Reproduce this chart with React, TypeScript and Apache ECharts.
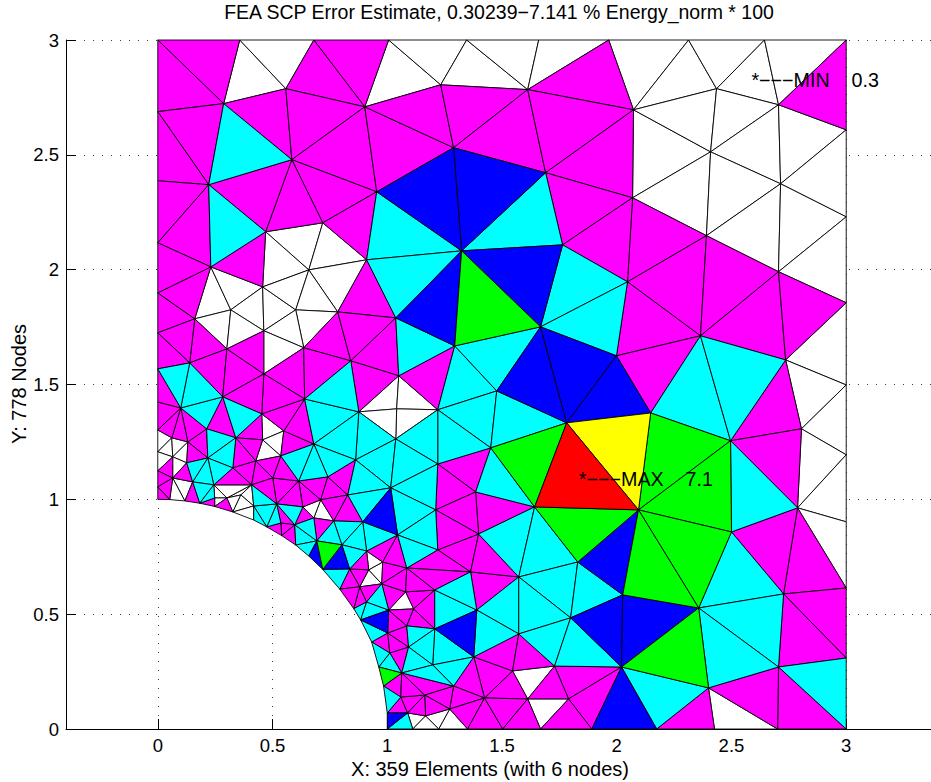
import React, { useEffect, useRef } from "react";
import * as echarts from "echarts";

const titleText = "FEA SCP Error Estimate, 0.30239\u22127.141 % Energy_norm * 100";
const xLabel = "X: 359 Elements (with 6 nodes)";
const yLabel = "Y: 778 Nodes";
const tickValues = [0, 0.5, 1, 1.5, 2, 2.5, 3];
const annotations: [number, number, string][] = [
  [2.587, 2.826, "*\u2212\u2212\u2212MIN    0.3"],
  [1.835, 1.087, "*\u2212\u2212\u2212MAX    7.1"],
];

const nodeX = [
  0, 0.357, 0.68, 1.006, 1.346, 1.66, 1.965, 2.313, 2.644, 3,
  0.287, 0.558, 0.902, 1.233, 1.612, 2.073, 2.435, 2.705, 0, 0,
  0, 0.584, 0.222, 0.954, 1.289, 1.69, 0.47, 0.719, 0.91, 1.324,
  0.231, 0.457, 0.658, 2.069, 2.409, 2.714, 3, 3, 2.705, 2.391,
  1.764, 2.047, 3, 1.668, 1.294, 1.037, 1.999, 2.365, 2.736, 2.148,
  2.496, 2.805, 3, 3, 2.788, 2.095, 1.782, 1.477, 1.05, 0.841,
  0.876, 1.041, 1.22, 1.037, 1.451, 1.22, 0.862, 1.015, 1.385, 0.418,
  0.784, 3, 2.5, 2.727, 3, 2.357, 2.026, 2.021, 3, 2.705,
  2.4, 2.174, 2.426, 2.701, 3, 1.891, 1.642, 1.83, 1.799, 1.573,
  1.729, 1.79, 1.546, 1.612, 1.424, 1.377, 1.573, 1.39, 1.363, 1.398,
  1.211, 1.22, 1.207, 1.207, 1.198, 1.289, 1.163, 1.272, 1.35, 1.503,
  1.668, 1.224, 1.167, 1.111, 1.089, 1, 1, 1.059, 0.984, 1.063,
  0.963, 1.011, 0.932, 1.093, 1.002, 1.085, 0.884, 1.006, 1.115, 0.91,
  0.854, 0.976, 0.88, 1.08, 0.919, 0.836, 0.793, 0.98, 0.91, 1.085,
  1.045, 0.893, 0.802, 0.767, 0.828, 0.71, 0.68, 0.632, 0.597, 0.693,
  0.601, 0.658, 0.719, 0.54, 0.536, 0.475, 0.518, 0.614, 0.501, 0.741,
  0.68, 0.536, 0.549, 0.457, 0.453, 0.64, 0.427, 0.409, 0.418, 0.362,
  0.327, 0.301, 0.244, 0.248, 0.248, 0.183, 0.152, 0.327, 0.218, 0.34,
  0.213, 0.283, 0.1, 0.131, 0.061, 0.126, 0.065, 0.065, 0.052, 0.118,
  0, 0, 0, 0, 0, 0, 0, 0.139, 0, 0.161,
  0, 0.318, 0.301, 0.462, 0.601, 0.636, 0.462,
];
const nodeY = [
  3, 3, 3, 3, 3, 3, 3, 3, 3, 3,
  2.723, 2.788, 2.709, 2.805, 2.784, 2.696, 2.788, 2.718, 2.688, 2.387,
  2.117, 2.479, 2.37, 2.339, 2.531, 2.422, 2.165, 2.204, 2.043, 2.082,
  2.012, 1.925, 1.999, 2.313, 2.513, 2.374, 2.609, 2.23, 1.991, 2.148,
  2.108, 1.947, 1.856, 1.751, 1.668, 1.79, 1.625, 1.712, 1.607, 1.376,
  1.255, 1.307, 1.498, 1.194, 0.963, 0.954, 1.333, 1.472, 1.538, 1.603,
  1.381, 1.394, 1.39, 1.263, 1.224, 1.154, 1.172, 1.05, 1.032, 0.91,
  1.816, 0.902, 0.858, 0.588, 0.614, 0.527, 0.584, 0.27, 0.309, 0.27,
  0.179, 0, 0, 0, 0, 0, 0.967, 0.727, 0.484, 0.662,
  0.274, 0.131, 0.253, 0.131, 0.135, 0.314, 0.414, 0.518, 0.684, 0.849,
  0.954, 0.78, 0.605, 0.436, 0.279, 0.187, 0.148, 0.087, 0, 0,
  0, 0, 0.057, 0, 0.07, 0, 0.07, 0.139, 0.187, 0.244,
  0.27, 0.331, 0.379, 0.357, 0.418, 0.449, 0.475, 0.518, 0.523, 0.553,
  0.524, 0.632, 0.619, 0.597, 0.693, 0.697, 0.609, 0.727, 0.775, 0.701,
  0.845, 0.902, 0.802, 0.906, 1.019, 0.998, 0.919, 0.967, 0.889, 0.819,
  0.801, 0.753, 0.695, 0.842, 0.897, 0.88, 0.98, 1.08, 1.093, 1.098,
  1.241, 1.189, 1.298, 1.259, 1.372, 1.437, 1.167, 1.063, 0.971, 1.019,
  0.945, 1.006, 1.063, 1.006, 0.969, 0.983, 1.076, 1.137, 1.18, 1.268,
  1.307, 1.446, 1.398, 1.25, 1.268, 1.159, 1.185, 1.093, 0.999, 0.993,
  1.424, 1.302, 1.207, 1.124, 1.054, 1, 1.568, 1.594, 1.725, 1.786,
  1.899, 1.825, 1.655, 1.734, 1.825, 1.66, 1.546,
];

const magentaCells = [
  0,1,10, 0,10,18, 2,3,12, 2,11,12, 6,15,14, 9,36,17, 18,10,22, 18,22,19, 10,11,21, 11,12,21,
  12,23,21, 12,24,23, 12,13,24, 13,14,24, 14,25,24, 14,15,25, 15,33,25, 33,39,41, 25,33,40, 33,41,40,
  21,23,27, 21,27,26, 21,26,22, 19,22,20, 20,22,30, 23,27,28, 30,26,31, 28,45,70, 39,47,41, 39,38,47,
  38,48,47, 38,42,48, 41,47,46, 46,47,49, 48,51,50, 54,74,73, 54,73,72, 50,51,54, 73,74,78, 73,78,79,
  79,84,83, 79,83,80, 80,82,81, 90,77,91, 91,77,85, 91,85,110, 90,91,93, 94,92,93, 95,92,94, 95,96,92,
  96,90,92, 98,97,89, 102,101,98, 101,99,98, 99,89,98, 68,86,99, 65,64,68, 65,68,100, 100,68,99, 100,99,101,
  95,94,105, 105,94,107, 94,108,107, 94,109,108, 94,93,109, 93,110,109, 104,105,106, 105,107,106, 106,107,112,
  117,114,116, 119,117,118, 117,106,114, 106,112,114, 119,106,117, 121,123,119, 122,124,121, 124,123,121, 124,125,123,
  127,125,124, 127,128,125, 128,103,125, 132,129,130, 132,131,129, 135,134,132, 136,135,132, 136,132,130, 131,133,127,
  133,102,128, 128,102,103, 135,138,134, 137,139,131, 131,139,133, 139,102,133, 139,101,98, 139,98,102, 119,105,106,
  138,140,137, 140,139,137, 146,143,149, 147,146,148, 157,158,156, 157,145,147, 157,147,156, 156,148,154, 154,148,153,
  154,153,155, 157,159,145, 159,144,145, 145,144,143, 144,141,143, 159,66,144, 153,148,150, 161,157,158, 162,160,161,
  165,160,162, 164,165,162, 180,181,179, 164,163,179, 179,163,166, 179,166,177, 166,161,158, 177,166,167, 166,158,167,
  158,156,167, 177,167,172, 183,180,178, 183,178,185, 182,180,183, 184,182,183, 191,182,184, 190,182,191, 193,186,187,
  185,176,187, 193,187,194, 194,187,188, 194,188,195, 176,175,189, 175,173,174, 171,170,174, 200,199,198, 200,30,199,
  20,30,200, 199,202,197, 198,199,197, 198,197,196, 197,202,181, 202,206,181, 202,203,206, 206,205,165, 205,70,59,
  205,59,165, 206,165,164, 181,206,164, 196,182,190, 70,45,59, 59,45,58, 59,58,60, 58,44,62,
];
const cyanCells = [
  10,21,22, 22,26,30, 25,40,29, 23,29,28, 28,29,45, 40,41,43, 41,46,43, 47,50,49, 47,48,50, 50,54,72,
  72,73,75, 75,73,79, 78,84,79, 75,79,80, 77,80,81, 45,44,58, 44,57,62, 44,43,57, 62,57,64, 57,56,64,
  62,64,65, 63,62,65, 60,63,66, 66,63,67, 63,65,67, 66,67,144, 144,67,141, 67,65,100, 67,100,140, 140,100,101,
  140,101,139, 141,140,138, 141,138,142, 142,138,135, 143,141,142, 149,143,142, 68,64,86, 99,86,89, 89,86,87, 89,87,88,
  87,76,88, 97,89,96, 89,88,96, 96,88,90, 88,77,90, 97,96,95, 102,97,103, 102,98,97, 103,95,104, 104,95,105,
  115,114,113, 118,117,116, 120,121,119, 122,121,120, 126,124,122, 130,129,126, 129,127,126, 131,127,129, 123,125,103, 123,103,104,
  119,123,104, 119,104,105, 165,60,160, 60,66,160, 160,66,159, 160,159,157, 161,160,157, 165,59,60, 148,149,150, 146,149,148,
  150,149,151, 156,147,148, 156,154,155, 168,156,155, 167,156,168, 168,155,69, 181,182,180, 197,181,182, 196,197,182, 181,164,179,
  180,179,178, 179,177,178, 178,177,172, 178,172,176, 185,178,176, 176,172,175, 175,172,173, 152,135,136,
];
const blueCells = [
  24,25,29, 23,24,29, 29,40,43, 29,44,45, 43,56,57, 43,46,56, 46,49,56, 55,76,87, 76,77,88, 76,75,77,
  77,81,85, 97,103,95, 127,124,126, 141,67,140, 116,114,115, 149,152,151, 142,135,152,
];
const greenCells = [
  29,43,44, 49,50,55, 50,72,55, 55,72,75, 55,75,76, 75,80,77, 64,56,86, 86,55,87, 120,119,118, 142,152,149,
];
const yellowCells = [56,49,55];
const redCells = [56,55,86];
const whiteCells = [
  1,11,10, 1,2,11, 3,13,12, 3,4,13, 4,14,13, 4,5,14, 5,6,14, 6,7,15, 7,16,15, 7,8,16,
  8,17,16, 8,9,17, 15,34,33, 15,16,34, 16,17,34, 17,35,34, 17,36,35, 36,37,35, 33,34,39, 34,35,39,
  35,38,39, 35,37,38, 37,42,38, 26,27,32, 27,28,32, 26,32,31, 32,28,70, 42,52,48, 48,52,51, 51,52,53,
  51,53,54, 53,71,54, 71,74,54, 80,83,82, 92,90,93, 91,93,110, 107,111,108, 112,107,111, 114,112,113, 112,111,113,
  133,128,127, 134,131,132, 134,137,131, 138,137,134, 60,58,61, 58,62,61, 62,63,61, 63,60,61, 145,143,146, 145,146,147,
  30,201,199, 30,31,201, 31,203,201, 31,204,203, 31,32,204, 32,70,204, 204,70,205, 203,204,205, 203,205,206, 199,201,202,
  201,203,202, 164,162,163, 163,162,161, 163,161,166, 191,184,192, 184,186,192, 184,183,186, 186,183,185, 192,186,193, 186,185,187,
  187,176,189, 187,189,188, 171,167,169, 172,167,171, 172,171,173, 173,171,174, 171,169,170, 169,167,168, 169,168,170, 170,168,69,
];

const colourGroups: [string, number[]][] = [
  ["#ffffff", whiteCells],
  ["#ff00ff", magentaCells],
  ["#00ffff", cyanCells],
  ["#0000ff", blueCells],
  ["#00ff00", greenCells],
  ["#ffff00", yellowCells],
  ["#ff0000", redCells],
];

const meshSeries = colourGroups.map(([colour, cells]) => {
  const data: number[][] = [];
  for (let i = 0; i + 2 < cells.length; i += 3) {
    const [a, b, c] = [cells[i], cells[i + 1], cells[i + 2]];
    data.push([nodeX[a], nodeY[a], nodeX[b], nodeY[b], nodeX[c], nodeY[c]]);
  }
  return {
    type: "custom",
    silent: true,
    clip: false,
    z: 3,
    encode: { x: [0, 2, 4], y: [1, 3, 5] },
    data,
    renderItem: (_: any, api: any) => ({
      type: "polygon",
      shape: {
        points: [
          api.coord([api.value(0), api.value(1)]),
          api.coord([api.value(2), api.value(3)]),
          api.coord([api.value(4), api.value(5)]),
        ],
      },
      style: { fill: colour, stroke: "#000", lineWidth: 0.9 },
    }),
  };
});

const FONT = "'Liberation Sans', Arial, Helvetica, sans-serif";

export default function App() {
  const ref = useRef<HTMLDivElement>(null);
  useEffect(() => {
    const chart = echarts.init(ref.current!, undefined, { renderer: "svg" });
    const grid = { color: "#000", type: [1, 8] as any, width: 1, opacity: 0.75 };
    chart.setOption({
      animation: false,
      backgroundColor: "#fff",
      grid: { left: 66, top: 40, width: 872, height: 689, containLabel: false },
      xAxis: {
        type: "value",
        min: -0.4,
        max: 3.4,
        axisLine: { onZero: false, lineStyle: { color: "#000", width: 1 } },
        axisTick: { inside: true, length: 10, customValues: tickValues, lineStyle: { color: "#000" } },
        axisLabel: { customValues: tickValues, margin: 7, color: "#000", fontSize: 18.5, fontFamily: FONT, formatter: (v: number) => String(v), showMinLabel: true, showMaxLabel: true },
        splitLine: { show: true, lineStyle: grid },
      },
      yAxis: {
        type: "value",
        min: 0,
        max: 3,
        interval: 0.5,
        axisLine: { onZero: false, show: true, lineStyle: { color: "#000", width: 1 } },
        axisTick: { show: true, inside: true, length: 10, lineStyle: { color: "#000" } },
        axisLabel: { margin: 7, color: "#000", fontSize: 18.5, fontFamily: FONT, formatter: (v: number) => String(v) },
        splitLine: { show: true, lineStyle: grid },
      },
      graphic: [
        { type: "text", x: 499, y: 12, style: { text: titleText, fill: "#000", font: `19.5px ${FONT}`, textAlign: "center", textVerticalAlign: "middle" } },
        { type: "text", x: 490, y: 769, style: { text: xLabel, fill: "#000", font: `20px ${FONT}`, textAlign: "center", textVerticalAlign: "middle" } },
        { type: "text", x: 19, y: 384, rotation: Math.PI / 2, style: { text: yLabel, fill: "#000", font: `20px ${FONT}`, textAlign: "center", textVerticalAlign: "middle" } },
      ],
      series: [
        ...meshSeries,
        {
          type: "scatter",
          silent: true,
          z: 10,
          symbolSize: 0,
          clip: false,
          itemStyle: { opacity: 1 },
          data: annotations.map(([x, y, t]) => ({ value: [x, y], label: { formatter: t } })),
          label: { show: true, position: "right", distance: 0, color: "#000", opacity: 1, fontSize: 19.7, fontFamily: FONT },
        },
      ],
    });
    return () => chart.dispose();
  }, []);
  return (
    <div style={{ position: "absolute", left: 0, top: 0, width: 931, height: 782, overflow: "hidden" }}>
      <div ref={ref} style={{ width: 960, height: 782 }} />
    </div>
  );
}
